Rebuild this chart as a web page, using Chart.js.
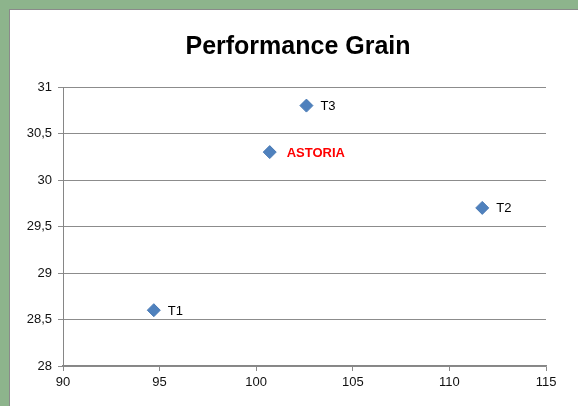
<!DOCTYPE html>
<html>
<head>
<meta charset="utf-8">
<script src="https://cdn.jsdelivr.net/npm/chart.js@4.4.1/dist/chart.umd.min.js"></script>
<style>
html,body{margin:0;padding:0;width:578px;height:406px;overflow:hidden;background:#8db48c;}
#panel{position:absolute;left:9px;top:9px;width:580px;height:410px;background:#fff;border-left:1px solid #8a8a8a;border-top:1px solid #8a8a8a;}
#wrap{position:absolute;left:0;top:0;width:578px;height:406px;}
</style>
</head>
<body>
<div id="panel"></div>
<div id="wrap"><canvas id="c" width="578" height="406"></canvas></div>
<script>
const chartTitle = "Performance Grain";
const pointNames = ["T1", "T2", "T3", "ASTORIA"];
const xValues = [94.7, 111.7, 102.6, 100.7];
const yValues = [28.6, 29.7, 30.8, 30.3];
const labelColors = ["#000000", "#000000", "#000000", "#ff0000"];
const labelBold = [false, false, false, true];
const xTicks = [90, 95, 100, 105, 110, 115];
const yTicks = [28, 28.5, 29, 29.5, 30, 30.5, 31];

const points = xValues.map((x, i) => ({ x: x, y: yValues[i] }));

const pointLabels = {
  id: 'pointLabels',
  afterDatasetsDraw(chart) {
    const ctx = chart.ctx;
    const meta = chart.getDatasetMeta(0);
    ctx.save();
    ctx.textBaseline = 'middle';
    ctx.textAlign = 'left';
    meta.data.forEach((el, i) => {
      const bold = labelBold[i];
      ctx.font = (bold ? 'bold ' : '') + '13px "Liberation Sans", Arial, sans-serif';
      ctx.fillStyle = labelColors[i];
      ctx.fillText(pointNames[i], el.x + (bold ? 17 : 14), el.y + 1);
    });
    ctx.restore();
  }
};

const titlePlugin = {
  id: 'offsetTitle',
  afterDraw(chart) {
    const ctx = chart.ctx;
    ctx.save();
    ctx.font = 'bold 25px "Liberation Sans", Arial, sans-serif';
    ctx.fillStyle = '#000';
    ctx.textAlign = 'center';
    ctx.textBaseline = 'middle';
    ctx.fillText(chartTitle, 298, 47);
    ctx.restore();
  }
};

const tickFont = { family: '"Liberation Sans", Arial, sans-serif', size: 13 };

new Chart(document.getElementById('c'), {
  type: 'scatter',
  data: {
    datasets: [{
      data: points,
      pointStyle: 'rectRot',
      pointRadius: 6.5,
      pointHoverRadius: 6.5,
      backgroundColor: '#4f81bd',
      borderColor: '#4a7ab5',
      borderWidth: 1
    }]
  },
  options: {
    responsive: false,
    animation: false,
    events: [],
    layout: { padding: { left: 10, right: 32, top: 87, bottom: 0 } },
    plugins: {
      legend: { display: false },
      tooltip: { enabled: false },
      title: { display: false }
    },
    scales: {
      x: {
        type: 'linear',
        min: 90, max: 115,
        afterBuildTicks(scale) { scale.ticks = xTicks.map(v => ({ value: v })); },
        afterFit(scale) { scale.height = 40; },
        grid: { display: true, drawOnChartArea: false, drawTicks: true, tickLength: 5, color: '#8a8a8a' },
        border: { display: true, color: '#868686', width: 1.5 },
        ticks: { color: '#111', font: tickFont, padding: 4, maxRotation: 0, autoSkip: false }
      },
      y: {
        type: 'linear',
        min: 28, max: 31,
        afterBuildTicks(scale) { scale.ticks = yTicks.map(v => ({ value: v })); },
        afterFit(scale) { scale.width = 53; },
        grid: { display: true, drawTicks: true, tickLength: 5, color: '#8c8c8c', lineWidth: 1 },
        border: { display: true, color: '#868686', width: 1 },
        ticks: {
          color: '#111', font: tickFont, padding: 6, autoSkip: false,
          callback: v => String(v).replace('.', ',')
        }
      }
    }
  },
  plugins: [pointLabels, titlePlugin]
});
</script>
</body>
</html>
